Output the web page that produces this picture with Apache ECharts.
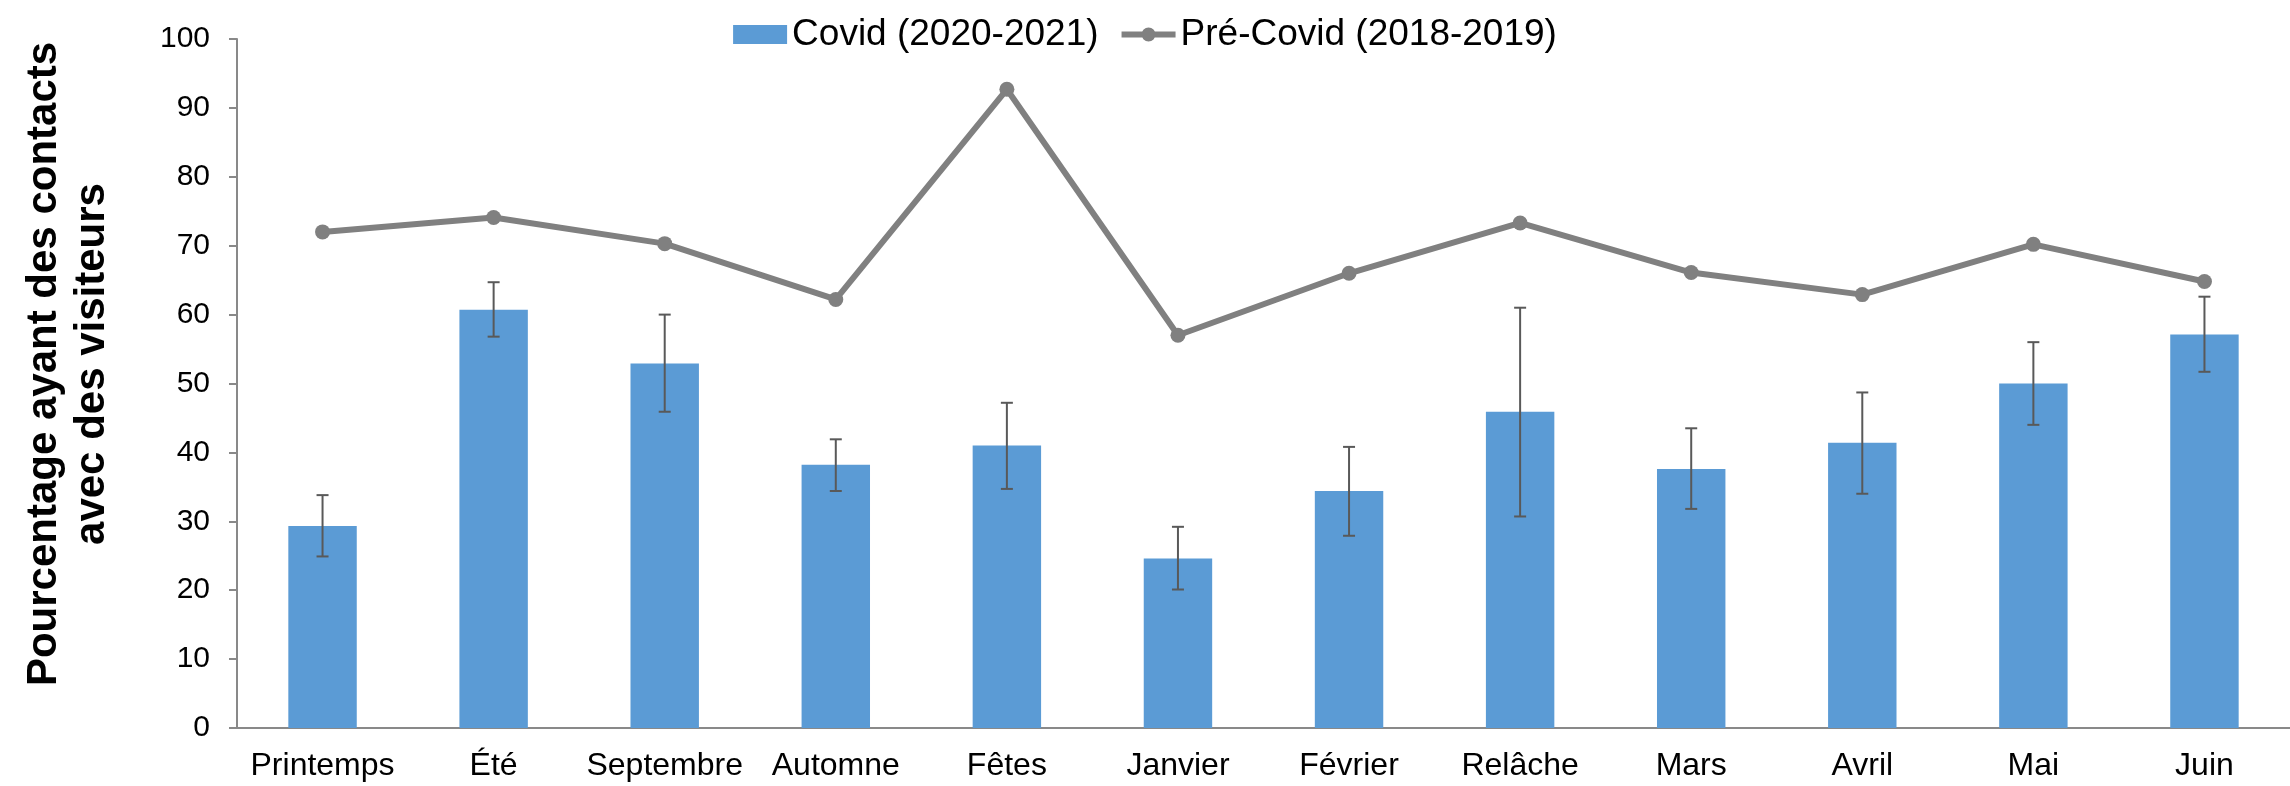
<!DOCTYPE html>
<html>
<head>
<meta charset="utf-8">
<script src="https://cdn.jsdelivr.net/npm/echarts@6/dist/echarts.min.js"></script>
<style>
html,body{margin:0;padding:0;background:#fff;}
#chart{width:2290px;height:786px;}
</style>
</head>
<body>
<div id="chart"></div>
<script>
var periods=['Printemps','Été','Septembre','Automne','Fêtes','Janvier','Février','Relâche','Mars','Avril','Mai','Juin'];
var covid=[29.3,60.7,52.9,38.2,41.0,24.6,34.4,45.9,37.6,41.4,50.0,57.1];
var covidLow=[24.9,56.8,45.9,34.4,34.7,20.1,27.9,30.7,31.8,34.0,44.0,51.7];
var covidHigh=[33.8,64.7,60.0,41.9,47.2,29.2,40.8,61.0,43.5,48.7,56.0,62.6];
var preCovid=[72.0,74.1,70.3,62.2,92.7,57.0,66.0,73.3,66.1,62.9,70.2,64.8];
var yTicks=[0,100,10];

var errData=periods.map(function(p,i){return [i,covidLow[i],covidHigh[i]];});

var font='"Liberation Sans", Arial, sans-serif';
// thick line + dot, same box as itemWidth x itemHeight so it is not stretched
var lineIcon='path://M0,0 M54,19 M0,6.5 L54,6.5 L54,12.5 L0,12.5 Z M34,9.5 A7,7 0 1,1 20,9.5 A7,7 0 1,1 34,9.5 Z';
var chart=echarts.init(document.getElementById('chart'));

chart.setOption({
	animation:false,
	backgroundColor:'#fff',
	textStyle:{fontFamily:font,color:'#000'},
	legend:{
		top:11,
		left:'center',
		itemWidth:54,
		itemHeight:19,
		itemGap:23,
		data:[
			{name:'Covid (2020-2021)',icon:'rect'},
			{name:'Pré-Covid (2018-2019)',icon:lineIcon}
		],
		textStyle:{fontSize:37,fontFamily:font,color:'#000'}
	},
	grid:{left:237,top:39,width:2057,height:689},
	graphic:[{
		type:'text',
		x:68,
		y:364,
		rotation:Math.PI/2,
		style:{
			text:'Pourcentage ayant des contacts\navec des visiteurs',
			font:'bold 42px '+font,
			fill:'#000',
			align:'center',
			verticalAlign:'middle',
			lineHeight:48
		}
	}],
	xAxis:{
		type:'category',
		data:periods,
		axisLine:{lineStyle:{color:'#898989',width:2}},
		axisTick:{length:10,lineStyle:{color:'#898989',width:2}},
		axisLabel:{fontSize:32,color:'#000',margin:22,interval:0}
	},
	yAxis:{
		type:'value',
		min:yTicks[0],
		max:yTicks[1],
		interval:yTicks[2],
		axisLine:{show:true,lineStyle:{color:'#898989',width:2}},
		axisTick:{show:true,length:8,lineStyle:{color:'#898989',width:2}},
		splitLine:{show:false},
		axisLabel:{fontSize:30,color:'#000',margin:27}
	},
	series:[
		{
			name:'Covid (2020-2021)',
			type:'bar',
			data:covid,
			barWidth:'40%',
			itemStyle:{color:'#5B9BD5'}
		},
		{
			name:'err',
			type:'custom',
			data:errData,
			z:3,
			renderItem:function(params,api){
				var x=api.value(0);
				var lo=api.coord([x,api.value(1)]);
				var hi=api.coord([x,api.value(2)]);
				var hw=6;
				var st={stroke:'#595959',lineWidth:2};
				return {type:'group',children:[
					{type:'line',shape:{x1:lo[0],y1:lo[1],x2:hi[0],y2:hi[1]},style:st},
					{type:'line',shape:{x1:lo[0]-hw,y1:lo[1],x2:lo[0]+hw,y2:lo[1]},style:st},
					{type:'line',shape:{x1:hi[0]-hw,y1:hi[1],x2:hi[0]+hw,y2:hi[1]},style:st}
				]};
			}
		},
		{
			name:'Pré-Covid (2018-2019)',
			type:'line',
			data:preCovid,
			z:4,
			symbol:'circle',
			symbolSize:15,
			lineStyle:{color:'#808080',width:6},
			itemStyle:{color:'#808080'}
		}
	]
});
</script>
</body>
</html>
